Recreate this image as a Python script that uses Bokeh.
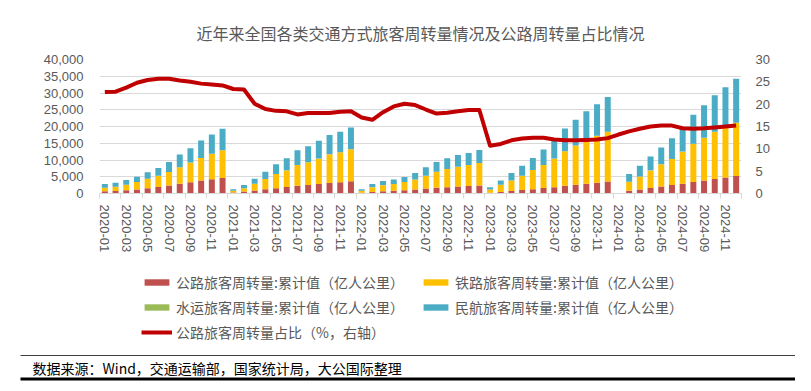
import numpy as np
from bokeh.plotting import figure
from bokeh.models import (ColumnDataSource, Range1d, LinearAxis, FixedTicker,
                          NumeralTickFormatter, Legend, LegendItem, Label)
from bokeh.embed import file_html
from bokeh.resources import INLINE

months = [
    "2020-01", "2020-02", "2020-03", "2020-04", "2020-05", "2020-06", "2020-07", "2020-08", "2020-09", "2020-10", "2020-11", "2020-12",
    "2021-01", "2021-02", "2021-03", "2021-04", "2021-05", "2021-06", "2021-07", "2021-08", "2021-09", "2021-10", "2021-11", "2021-12",
    "2022-01", "2022-02", "2022-03", "2022-04", "2022-05", "2022-06", "2022-07", "2022-08", "2022-09", "2022-10", "2022-11", "2022-12",
    "2023-01", "2023-02", "2023-03", "2023-04", "2023-05", "2023-06", "2023-07", "2023-08", "2023-09", "2023-10", "2023-11", "2023-12",
    "2024-01", "2024-02", "2024-03", "2024-04", "2024-05", "2024-06", "2024-07", "2024-08", "2024-09", "2024-10", "2024-11", "2024-12",
]

# 公路旅客周转量:累计值（亿人公里）
road = [
    640, 730, 940, 1230, 1590, 1940, 2400, 2920, 3360, 3890, 4280, 4650,
    300, 580, 890, 1240, 1600, 1920, 2320, 2540, 2830, 3130, 3370, 3630,
    220, 460, 670, 810, 980, 1200, 1470, 1690, 1890, 2090, 2240, 2420,
    205, 437, 726, 1010, 1300, 1620, 1900, 2290, 2600, 2940, 3220, 3570,
    None, 800, 1210, 1650, 2080, 2510, 2880, 3400, 3850, 4340, 4790, 5200,
]
# 铁路旅客周转量:累计值（亿人公里）
rail = [
    1060, 1270, 1660, 2170, 2810, 3360, 4000, 4880, 5840, 6710, 7520, 8250,
    500, 1020, 2010, 3060, 4200, 4980, 6180, 6760, 7570, 8570, 8930, 9570,
    580, 1440, 1830, 1990, 2420, 3000, 3830, 4810, 5410, 5910, 6260, 6680,
    995, 2163, 3174, 4290, 5700, 6880, 8500, 10310, 11700, 12760, 13980, 14830,
    None, 2700, 3890, 5250, 6620, 7790, 9620, 11400, 12750, 14060, 15410, 15900,
]
# 水运旅客周转量:累计值（亿人公里）
water = [
    2, 3, 5, 7, 9, 12, 15, 19, 23, 27, 30, 33,
    2, 4, 6, 8, 11, 14, 18, 22, 26, 29, 31, 33,
    1, 3, 4, 5, 7, 9, 12, 15, 18, 19, 21, 22,
    2, 4, 7, 10, 13, 17, 22, 28, 33, 37, 39, 41,
    None, 5, 8, 11, 15, 19, 25, 32, 37, 42, 45, 48,
]
# 民航旅客周转量:累计值（亿人公里）
air = [
    1100, 1200, 1400, 1600, 1900, 2300, 3000, 3800, 4300, 5200, 5800, 6400,
    500, 900, 1500, 2200, 2900, 3600, 4400, 4800, 5300, 5700, 6100, 6500,
    500, 900, 1200, 1400, 1500, 1900, 2500, 2900, 3200, 3500, 3600, 3900,
    700, 1300, 2200, 3000, 3600, 4600, 5300, 6800, 7700, 8800, 9400, 10400,
    None, 2300, 3200, 4100, 5000, 6200, 7200, 8700, 9700, 10900, 11500, 13100,
]
# 公路旅客周转量占比（%，右轴）
share = [
    22.7, 22.8, 23.7, 24.8, 25.4, 25.7, 25.7, 25.3, 25.0, 24.6, 24.4, 24.2,
    23.4, 23.3, 20.1, 18.9, 18.5, 18.4, 17.7, 18.0, 18.0, 18.0, 18.3, 18.4,
    17.0, 16.5, 18.2, 19.5, 20.1, 19.8, 18.8, 17.9, 18.1, 18.4, 18.7, 18.7,
    10.7, 11.1, 11.9, 12.3, 12.5, 12.5, 12.1, 11.9, 11.9, 12.0, 12.1, 12.4,
    13.2, 13.9, 14.5, 15.0, 15.2, 15.2, 14.6, 14.5, 14.6, 14.8, 15.0, 15.2,
]

left_ticks = [0, 5000, 10000, 15000, 20000, 25000, 30000, 35000, 40000]
right_ticks = [0, 5, 10, 15, 20, 25, 30]

labels = ["公路旅客周转量:累计值（亿人公里）", "铁路旅客周转量:累计值（亿人公里）",
          "水运旅客周转量:累计值（亿人公里）", "民航旅客周转量:累计值（亿人公里）",
          "公路旅客周转量占比（%，右轴）"]
colors = ["#C0504D", "#FFC000", "#9BBB59", "#4BACC6"]
line_color = "#C00000"

def arr(v):
    return np.array([np.nan if a is None else a for a in v], dtype=float)

idx = list(range(len(months)))
src = ColumnDataSource(dict(x=idx, road=arr(road), rail=arr(rail), water=arr(water),
                            air=arr(air), share=arr(share)))

TICK_FONT = "Liberation Sans"
CJK = "Noto Sans CJK SC"
GRAY = "#595959"

p = figure(width=795, height=255, x_range=Range1d(-0.5, len(months) - 0.5),
           y_range=Range1d(0, 40000), min_border_left=99, min_border_right=54,
           min_border_top=59, min_border_bottom=62, toolbar_location=None,
           output_backend="svg")
p.extra_y_ranges = {"share": Range1d(0, 30)}
p.outline_line_color = None
p.background_fill_color = "white"

p.title.text = "近年来全国各类交通方式旅客周转量情况及公路周转量占比情况"
p.title.align = "center"
p.title.offset = -27
p.title.standoff = 30
p.title.text_font = CJK
p.title.text_font_size = "16px"
p.title.text_font_style = "normal"
p.title.text_color = GRAY

bars = p.vbar_stack(["road", "rail", "water", "air"], x="x", width=0.56, source=src,
                    color=colors, line_color=None)
ln = p.line("x", "share", source=src, y_range_name="share", line_color=line_color,
            line_width=4, line_join="round")

# grid
p.xgrid.grid_line_color = None
p.ygrid.grid_line_color = "#D9D9D9"
p.ygrid.grid_line_width = 1
p.ygrid.ticker = FixedTicker(ticks=left_ticks)

# left axis
ya = p.yaxis[0]
ya.ticker = FixedTicker(ticks=left_ticks)
ya.formatter = NumeralTickFormatter(format="0,0")
ya.axis_line_color = None
ya.major_tick_line_color = None
ya.minor_tick_line_color = None
ya.major_tick_out = 0
ya.major_label_standoff = 16
ya.major_label_text_font = TICK_FONT
ya.major_label_text_font_size = "13px"
ya.major_label_text_color = GRAY

# right axis
ra = LinearAxis(y_range_name="share", ticker=FixedTicker(ticks=right_ticks))
ra.axis_line_color = None
ra.major_tick_line_color = None
ra.minor_tick_line_color = None
ra.major_tick_out = 0
ra.major_label_standoff = 14
ra.major_label_text_font = TICK_FONT
ra.major_label_text_font_size = "13px"
ra.major_label_text_color = GRAY
p.add_layout(ra, "right")

# x axis
xa = p.xaxis[0]
centers = idx[0::2]
bounds = [i - 0.5 for i in idx[0::2]] + [idx[-1] + 0.5]
xa.ticker = FixedTicker(ticks=centers, minor_ticks=bounds)
xa.major_label_overrides = {i: months[i] for i in centers}
xa.major_label_orientation = "vertical"
xa.axis_line_color = "#D9D9D9"
xa.major_tick_line_color = None
xa.major_tick_out = 0
xa.major_tick_in = 0
xa.minor_tick_line_color = "#D9D9D9"
xa.minor_tick_out = 5
xa.minor_tick_in = 0
xa.major_label_standoff = 6
xa.major_label_text_font = TICK_FONT
xa.major_label_text_font_size = "13px"
xa.major_label_text_color = GRAY

# lower panel: legend and source note
FH = 128
f = figure(width=795, height=FH, x_range=Range1d(0, 795), y_range=Range1d(FH, 0),
           min_border=0, toolbar_location=None, output_backend="svg",
           x_axis_type=None, y_axis_type=None)
f.outline_line_color = None
f.xgrid.grid_line_color = None
f.ygrid.grid_line_color = None

# legend keys (styled like the chart's renderers, placed off-view)
key_src = ColumnDataSource(dict(x=[-1000], top=[0], y=[-1000]))
keys = [f.vbar(x="x", top="top", width=1, source=key_src, color=c, line_color=None)
        for c in colors]
keys.append(f.line(x="x", y="y", source=key_src, line_color=line_color, line_width=4))
items = [LegendItem(label=labels[i], renderers=[keys[i]]) for i in range(5)]
legend = Legend(items=items, location=(141, 41), orientation="horizontal", ncols=2,
                label_text_font=CJK, label_text_font_size="14px", label_text_color=GRAY,
                glyph_width=31, glyph_height=8, label_standoff=4, spacing=5,
                padding=0, margin=0, border_line_color=None, background_fill_alpha=0,
                label_height=18, label_width=239)
f.add_layout(legend)

f.segment(x0=[20], y0=[100], x1=[795], y1=[100], line_color="#404040", line_width=1)
f.segment(x0=[20], y0=[123.5], x1=[795], y1=[123.5], line_color="#000000", line_width=3)
f.add_layout(Label(x=32, y=112, text="数据来源：Wind，交通运输部，国家统计局，大公国际整理",
                   text_baseline="middle", text_font=CJK, text_font_size="14px",
                   text_color="#000000"))

open("out.html", "w").write(file_html([p, f], INLINE))
